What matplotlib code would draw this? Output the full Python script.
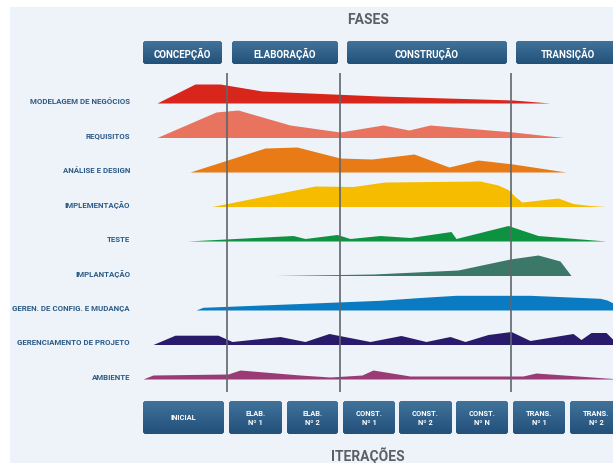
import matplotlib.pyplot as plt
import numpy as np
from matplotlib.patches import FancyBboxPatch, Rectangle

plt.rcParams['font.family'] = ['Roboto', 'DejaVu Sans']

# disciplines (top to bottom)
disciplines = ["MODELAGEM DE NEGÓCIOS", "REQUISITOS", "ANÁLISE E DESIGN", "IMPLEMENTAÇÃO",
               "TESTE", "IMPLANTAÇÃO", "GEREN. DE CONFIG. E MUDANÇA",
               "GERENCIAMENTO DE PROJETO", "AMBIENTE"]
colors = ["#d9261c", "#e8735e", "#e97b17", "#f6bd00", "#0d9340",
          "#3b7867", "#0a7bc2", "#2a1a6c", "#9a3b76"]

# effort curves: time position and effort height
modelagem_t = [157, 195, 220, 262, 380, 513, 550]
modelagem_h = [0, 19, 19, 12, 7, 3, 0]
requisitos_t = [157, 216, 238, 290, 340, 383, 409, 430, 513, 563]
requisitos_h = [0, 25.5, 27.5, 12.5, 5.5, 12.5, 7.5, 12.5, 5.5, 0]
analise_t = [190, 265, 297, 340, 372, 414, 449, 478, 513, 566]
analise_h = [0, 24, 25, 14, 13, 18, 5, 12, 8, 0]
implementacao_t = [212, 315, 353, 385, 480, 498, 508, 515, 522, 558, 573, 590, 606]
implementacao_h = [0, 20.5, 20, 24.5, 25.5, 21.5, 17, 10, 4.5, 8.5, 3, 1, 0]
teste_t = [187, 293, 305, 337, 350, 380, 410, 451, 456, 508, 538, 606]
teste_h = [0, 5.5, 2.5, 6.5, 2.5, 5.5, 3.5, 9.5, 2.5, 15.5, 5.5, 0]
implantacao_t = [275, 373, 458, 510, 538, 560, 571]
implantacao_h = [0, 1.5, 5.5, 16.5, 20.5, 14.5, 0]
config_t = [196, 203, 300, 380, 420, 456, 530, 600, 607, 613]
config_h = [0, 2.7, 6.5, 9.7, 12.5, 14.7, 14.7, 11.7, 10, 7]
projeto_t = [153, 175, 218, 232, 280, 305, 329, 370, 401, 426, 450, 465, 488,
             511, 530, 573, 581, 591, 606, 613]
projeto_h = [0, 9.3, 9.3, 3, 8, 3, 11, 3, 9, 3, 8, 3, 10, 13, 4, 11, 5, 12, 12, 5]
ambiente_t = [143, 153, 228, 240, 300, 330, 362, 373, 410, 523, 536, 613]
ambiente_h = [0, 4, 5, 9, 4, 2, 4, 9, 3, 3, 6, 0.5]

curves = [(modelagem_t, modelagem_h), (requisitos_t, requisitos_h),
          (analise_t, analise_h), (implementacao_t, implementacao_h),
          (teste_t, teste_h), (implantacao_t, implantacao_h),
          (config_t, config_h), (projeto_t, projeto_h), (ambiente_t, ambiente_h)]

phases = ["CONCEPÇÃO", "ELABORAÇÃO", "CONSTRUÇÃO", "TRANSIÇÃO"]
phase_spans = [(143, 222), (232, 338), (347, 507), (516, 620)]
phase_bounds = [227, 340, 511]

iterations = ["INICIAL", "ELAB.\nNº 1", "ELAB.\nNº 2", "CONST.\nNº 1", "CONST.\nNº 2",
              "CONST.\nNº N", "TRANS.\nNº 1", "TRANS.\nNº 2"]
iter_spans = [(143, 224), (229, 282), (287, 338), (343, 395), (399, 452),
              (456, 508), (513, 565), (570, 622)]

label_color = "#2d5b87"
title_color = "#5b6064"

fig = plt.figure(figsize=(6.13, 4.64), dpi=100, facecolor="white")
ax = fig.add_axes([0, 0, 1, 1])
ax.add_patch(Rectangle((10, 8), 620, 470, facecolor="#edf3f8", edgecolor="none", zorder=0))

grad = np.linspace(0, 1, 64).reshape(-1, 1)
box_cmap = plt.matplotlib.colors.LinearSegmentedColormap.from_list("box", ["#41739a", "#22507a"])


def box(x0, x1, y0, y1, text, size):
    p = FancyBboxPatch((x0, y0), x1 - x0, y1 - y0,
                       boxstyle="round,pad=0,rounding_size=3",
                       facecolor="#2d5f86", edgecolor="none", zorder=2)
    ax.add_patch(p)
    im = ax.imshow(grad, extent=[x0, x1, y1, y0], origin="upper", cmap=box_cmap,
                   aspect="auto", zorder=3)
    im.set_clip_path(p)
    ax.text((x0 + x1) / 2, (y0 + y1) / 2, text, color="white", fontsize=size,
            fontweight="bold", ha="center", va="center", linespacing=1.05, zorder=4)


ax.text(368, 20, "FASES", fontsize=10, fontweight="bold", color=title_color,
        ha="center", va="center")
for name, (a, b) in zip(phases, phase_spans):
    box(a, b, 42, 65, name, 7)

# effort humps
base0, step = 104, 34.5
for i, (name, col, (t, h)) in enumerate(zip(disciplines, colors, curves)):
    base = base0 + i * step
    ax.fill_between(t, base, base - np.array(h), color=col, linewidth=0, zorder=1)
    ax.text(130, base - 2.5, name, fontsize=5.7, fontweight="bold", color=label_color,
            ha="right", va="center")

for xb in phase_bounds:
    ax.plot([xb, xb], [75, 392], color="#5f666b", lw=1.4, alpha=0.85, zorder=5)

for name, (a, b) in zip(iterations, iter_spans):
    box(a, b, 402, 435, name, 5.4)

ax.text(368, 456, "ITERAÇÕES", fontsize=10, fontweight="bold", color=title_color,
        ha="center", va="center")

ax.set_xlim(0, 613)
ax.set_ylim(464, 0)
ax.axis("off")
fig.savefig("out.png", dpi=100, facecolor="white")
